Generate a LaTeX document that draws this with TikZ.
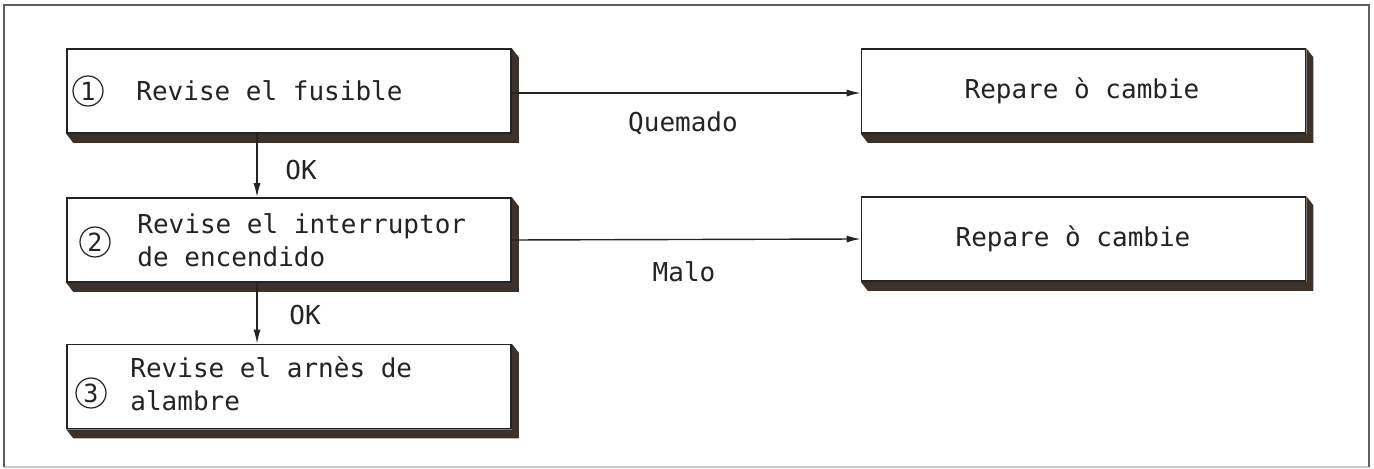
\documentclass[tikz,border=0pt]{standalone}
\usepackage{fontspec}
\newfontfamily\diafont{DejaVu Sans Mono}
\usetikzlibrary{arrows.meta,calc}
\definecolor{ink}{RGB}{35,35,35}
\definecolor{shadowc}{RGB}{60,50,42}
\definecolor{framec}{RGB}{95,95,95}
\definecolor{framefaint}{RGB}{200,200,200}
\begin{document}
\begin{tikzpicture}[x=0.5pt,y=-0.5pt,
  box/.style={draw=ink,line width=0.8pt,fill=white,minimum width=222pt,minimum height=42pt,inner sep=0pt},
  txt/.style={font=\diafont\fontsize{13pt}{16.5pt}\selectfont,text=ink,inner sep=0pt,align=left},
  num/.style={circle,draw=ink,line width=0.6pt,minimum size=15pt,inner sep=0pt,font=\diafont\fontsize{12.5pt}{12.5pt}\selectfont,text=ink},
  arr/.style={draw=ink,line width=0.7pt,-{Latex[length=7pt,width=3.5pt]}},
  lab/.style={font=\diafont\fontsize{13pt}{16pt}\selectfont,text=ink,inner sep=0pt}]
\useasboundingbox (0,0) rectangle (1374,469);
% frame
\coordinate (ftl) at (4,5);
\coordinate (ftr) at (1369,5);
\coordinate (fbl) at (4,467);
\coordinate (fbr) at (1369,467);
\draw[framefaint,line width=0.6pt] (fbl) -- (fbr);
\draw[framec,line width=0.8pt] (fbl) -- (ftl) -- (ftr) -- (fbr);
% boxes
\node[box] (b1) at (289,91) {};
\node[box] (b2) at (289,240) {};
\node[box] (b3) at (289,386.5) {};
\node[box] (r1) at (1083.5,91) {};
\node[box] (r2) at (1083.5,239) {};
\foreach \n in {b1,b2,b3,r1,r2}{
  \fill[shadowc] (\n.south west) -- ($(\n.south west)+(7,9)$) -- ($(\n.south east)+(7,9)$)
    -- ($(\n.north east)+(7,9)$) -- (\n.north east) -- (\n.south east) -- cycle;
}
% texts
\node[num] (c1) at (88,91) {1};
\node[num] (c2) at (95,242) {2};
\node[num] (c3) at (91,393) {3};
\node[txt,anchor=west] (t1) at (136,91) {Revise el fusible};
\node[txt,anchor=west] (t2) at (137,240) {Revise el interruptor\\de encendido};
\node[txt,anchor=west] (t3) at (130,384) {Revise el arnès de\\alambre};
\node[txt] (t4) at (1082,91) {Repare ò cambie};
\node[txt] (t5) at (1073,239) {Repare ò cambie};
% connectors
\draw[arr] ([yshift=-1pt]b1.east) -- ([yshift=-1pt]r1.west);
\draw[arr] (b2.east) -- (r2.west);
\draw[arr] ([xshift=-16pt]b1.south) -- ([xshift=-16pt]b2.north);
\draw[arr] ([xshift=-16pt]b2.south) -- ([xshift=-16pt]b3.north);
% labels
\node[lab] (ok1) at (301,170) {OK};
\node[lab] (ok2) at (305,315) {OK};
\node[lab] (q) at (683,123) {Quemado};
\node[lab] (m) at (684,272) {Malo};
\end{tikzpicture}
\end{document}
